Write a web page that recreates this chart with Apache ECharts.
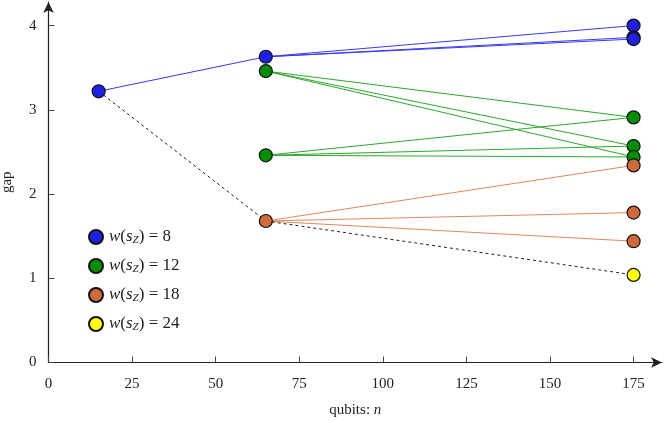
<!doctype html>
<html>
<head>
<meta charset="UTF-8">
<title>gap vs qubits</title>
<style>
  html, body { margin: 0; padding: 0; background: #fff; }
  #main { width: 664px; height: 422px; }
</style>
<script src="https://cdn.jsdelivr.net/npm/echarts@6/dist/echarts.min.js"></script>
</head>
<body>
<div id="main"></div>
<script>
// tick labels
var xTicks = [0, 25, 50, 75, 100, 125, 150, 175];
var yTicks = [0, 1, 2, 3, 4];

// points per weight class [n, gap]
var pts8  = [[15, 3.22], [65, 3.63], [175, 4.00], [175, 3.86], [175, 3.84]];
var pts12 = [[65, 3.46], [65, 2.46], [175, 2.91], [175, 2.57], [175, 2.44]];
var pts18 = [[65, 1.68], [175, 2.34], [175, 1.78], [175, 1.44]];
var pts24 = [[175, 1.04]];

// edges between points
var edges8  = [[[15, 3.22], [65, 3.63]], [[65, 3.63], [175, 4.00]], [[65, 3.63], [175, 3.86]], [[65, 3.63], [175, 3.84]]];
var edges12 = [[[65, 3.46], [175, 2.91]], [[65, 3.46], [175, 2.57]], [[65, 3.46], [175, 2.44]],
               [[65, 2.46], [175, 2.91]], [[65, 2.46], [175, 2.57]], [[65, 2.46], [175, 2.44]]];
var edges18 = [[[65, 1.68], [175, 2.34]], [[65, 1.68], [175, 1.78]], [[65, 1.68], [175, 1.44]]];
var dashedPath = [[[15, 3.22], [65, 1.68]], [[65, 1.68], [175, 1.04]]];

var names = ['w8', 'w12', 'w18', 'w24'];
var weights = { w8: '8', w12: '12', w18: '18', w24: '24' };

var font = 'Liberation Serif';
var ink = '#222';

function edgeData(list) {
    return list.map(function (e) { return { coords: e }; });
}
function lineSeries(list, color, type) {
    return {
        type: 'lines',
        coordinateSystem: 'cartesian2d',
        data: edgeData(list),
        silent: true,
        z: 1,
        lineStyle: { color: color, width: 1, type: type || 'solid', opacity: 1 }
    };
}
function dotSeries(name, data, color) {
    return {
        name: name,
        type: 'scatter',
        data: data,
        symbol: 'circle',
        symbolSize: 13,
        z: 3,
        itemStyle: { color: color, borderColor: '#111', borderWidth: 1.2, opacity: 1 }
    };
}

var myChart = echarts.init(document.getElementById('main'));

var option = {
    backgroundColor: '#fff',
    animation: false,
    grid: { left: 48.5, right: 2, top: 2, bottom: 59.5, outerBoundsMode: 'none', containLabel: false },
    legend: {
        data: names,
        orient: 'vertical',
        left: 83,
        top: 223.5,
        itemWidth: 14,
        itemHeight: 14,
        itemGap: 12,
        icon: 'circle',
        formatter: function (n) {
            return '{i|w}{r|(}{i|s}{z|Z}{r|) = ' + weights[n] + '}';
        },
        textStyle: {
            padding: [0, 0, 0, 1],
            rich: {
                i: { fontFamily: font, fontStyle: 'italic', fontSize: 17, lineHeight: 16, color: ink },
                r: { fontFamily: font, fontSize: 17, lineHeight: 16, color: ink },
                z: { fontFamily: font, fontStyle: 'italic', fontSize: 11, lineHeight: 10, color: ink, padding: [6, 0, 0, 0] }
            }
        }
    },
    xAxis: {
        type: 'value',
        min: 0,
        max: 183.5,
        name: 'qubits: {i|n}',
        nameLocation: 'middle',
        nameGap: 40,
        nameTextStyle: {
            fontFamily: font, fontSize: 15, color: ink,
            rich: { i: { fontFamily: font, fontStyle: 'italic', fontSize: 15, color: ink } }
        },
        splitLine: { show: false },
        axisLine: { lineStyle: { color: '#222', width: 1.2 }, symbol: ['none', 'arrow'], symbolSize: [8, 11] },
        axisTick: { inside: true, length: 6, customValues: xTicks, lineStyle: { color: '#444' } },
        axisLabel: { customValues: xTicks, margin: 14, fontFamily: font, fontSize: 15, color: ink }
    },
    yAxis: {
        type: 'value',
        min: 0,
        max: 4.28,
        name: 'gap',
        nameLocation: 'middle',
        nameRotate: 90,
        nameGap: 34,
        nameTextStyle: { fontFamily: font, fontSize: 15, color: ink },
        splitLine: { show: false },
        axisLine: { lineStyle: { color: '#222', width: 1.2 }, symbol: ['none', 'arrow'], symbolSize: [8, 11] },
        axisTick: { inside: true, length: 6, customValues: yTicks, lineStyle: { color: '#444' } },
        axisLabel: { customValues: yTicks, margin: 12, fontFamily: font, fontSize: 15, color: ink }
    },
    series: [
        lineSeries(edges8, '#3a3af0'),
        lineSeries(edges12, '#2ca82c'),
        lineSeries(edges18, '#e08a60'),
        lineSeries(dashedPath, '#222', [3, 3]),
        dotSeries('w8', pts8, '#1f1fe6'),
        dotSeries('w12', pts12, '#008f00'),
        dotSeries('w18', pts18, '#cf6a3a'),
        dotSeries('w24', pts24, '#ffff00')
    ]
};

myChart.setOption(option);
</script>
</body>
</html>
